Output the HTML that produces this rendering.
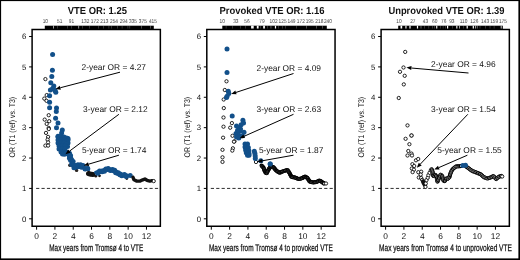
<!DOCTYPE html>
<html><head><meta charset="utf-8"><style>
html,body{margin:0;padding:0;background:#fff;}
svg{display:block;will-change:transform;}
text{font-family:"Liberation Sans", sans-serif;fill:#111;text-rendering:geometricPrecision;}
</style></head><body>
<svg width="520" height="260" viewBox="0 0 520 260">
<rect x="0" y="0" width="520" height="260" fill="#fff"/>
<rect x="0" y="0" width="520" height="1.1" fill="#000"/>
<rect x="0" y="0" width="1.1" height="260" fill="#000"/>
<rect x="518.4" y="0" width="1.6" height="260" fill="#000"/>
<rect x="0" y="258.4" width="520" height="1.6" fill="#000"/>
<text x="67.8" y="14.0" font-size="10.2" font-weight="bold" textLength="59.10000000000001" lengthAdjust="spacingAndGlyphs">VTE OR: 1.25</text>
<text x="0" y="0" font-size="5.6" text-anchor="middle" style="fill:#444" transform="translate(45.3,22.9) scale(0.86,1)">10</text>
<text x="0" y="0" font-size="5.6" text-anchor="middle" style="fill:#444" transform="translate(59.7,22.9) scale(0.86,1)">51</text>
<text x="0" y="0" font-size="5.6" text-anchor="middle" style="fill:#444" transform="translate(71.5,22.9) scale(0.86,1)">91</text>
<text x="0" y="0" font-size="5.6" text-anchor="middle" style="fill:#444" transform="translate(85.3,22.9) scale(0.86,1)">132</text>
<text x="0" y="0" font-size="5.6" text-anchor="middle" style="fill:#444" transform="translate(94.8,22.9) scale(0.86,1)">172</text>
<text x="0" y="0" font-size="5.6" text-anchor="middle" style="fill:#444" transform="translate(104.3,22.9) scale(0.86,1)">213</text>
<text x="0" y="0" font-size="5.6" text-anchor="middle" style="fill:#444" transform="translate(114,22.9) scale(0.86,1)">254</text>
<text x="0" y="0" font-size="5.6" text-anchor="middle" style="fill:#444" transform="translate(123.7,22.9) scale(0.86,1)">294</text>
<text x="0" y="0" font-size="5.6" text-anchor="middle" style="fill:#444" transform="translate(133,22.9) scale(0.86,1)">335</text>
<text x="0" y="0" font-size="5.6" text-anchor="middle" style="fill:#444" transform="translate(142.8,22.9) scale(0.86,1)">375</text>
<text x="0" y="0" font-size="5.6" text-anchor="middle" style="fill:#444" transform="translate(152.9,22.9) scale(0.86,1)">415</text>
<rect x="44.8" y="25.7" width="109.00000000000001" height="3.6" fill="#000"/>
<rect x="53.2" y="25.7" width="0.7" height="3.0" fill="#fff" opacity="0.9"/>
<rect x="57.3" y="25.7" width="0.6" height="3.0" fill="#fff" opacity="0.35"/>
<rect x="67.2" y="25.7" width="0.6" height="3.0" fill="#fff" opacity="0.35"/>
<rect x="71" y="25.7" width="0.6" height="3.0" fill="#fff" opacity="0.35"/>
<rect x="78.3" y="25.7" width="0.8" height="3.0" fill="#fff" opacity="0.7"/>
<rect x="82" y="25.7" width="0.6" height="3.0" fill="#fff" opacity="0.35"/>
<rect x="89.2" y="25.7" width="0.6" height="3.0" fill="#fff" opacity="0.35"/>
<rect x="98.2" y="25.7" width="0.6" height="3.0" fill="#fff" opacity="0.35"/>
<rect x="103.4" y="25.7" width="0.6" height="3.0" fill="#fff" opacity="0.35"/>
<rect x="108.6" y="25.7" width="0.6" height="3.0" fill="#fff" opacity="0.35"/>
<rect x="111.2" y="25.7" width="0.6" height="3.0" fill="#fff" opacity="0.35"/>
<rect x="117.2" y="25.7" width="0.6" height="3.0" fill="#fff" opacity="0.35"/>
<rect x="121.8" y="25.7" width="0.6" height="3.0" fill="#fff" opacity="0.35"/>
<rect x="127.6" y="25.7" width="0.6" height="3.0" fill="#fff" opacity="0.35"/>
<rect x="129.5" y="25.7" width="0.6" height="3.0" fill="#fff" opacity="0.35"/>
<rect x="141.5" y="25.7" width="0.5" height="3.0" fill="#fff" opacity="0.6"/>
<rect x="150.5" y="25.7" width="0.5" height="3.0" fill="#fff" opacity="0.6"/>
<path d="M32.1,29.5 H160.35 V226.2 H32.1 Z" fill="none" stroke="#000" stroke-width="1.5"/>
<line x1="29.1" y1="218.80" x2="32.1" y2="218.80" stroke="#000" stroke-width="1"/>
<text x="26.3" y="221.60" font-size="7.8" text-anchor="end">0</text>
<line x1="29.1" y1="188.42" x2="32.1" y2="188.42" stroke="#000" stroke-width="1"/>
<text x="26.3" y="191.22" font-size="7.8" text-anchor="end">1</text>
<line x1="29.1" y1="158.04" x2="32.1" y2="158.04" stroke="#000" stroke-width="1"/>
<text x="26.3" y="160.84" font-size="7.8" text-anchor="end">2</text>
<line x1="29.1" y1="127.66" x2="32.1" y2="127.66" stroke="#000" stroke-width="1"/>
<text x="26.3" y="130.46" font-size="7.8" text-anchor="end">3</text>
<line x1="29.1" y1="97.28" x2="32.1" y2="97.28" stroke="#000" stroke-width="1"/>
<text x="26.3" y="100.08" font-size="7.8" text-anchor="end">4</text>
<line x1="29.1" y1="66.90" x2="32.1" y2="66.90" stroke="#000" stroke-width="1"/>
<text x="26.3" y="69.70" font-size="7.8" text-anchor="end">5</text>
<line x1="29.1" y1="36.52" x2="32.1" y2="36.52" stroke="#000" stroke-width="1"/>
<text x="26.3" y="39.32" font-size="7.8" text-anchor="end">6</text>
<line x1="36.60" y1="226.2" x2="36.60" y2="229.7" stroke="#000" stroke-width="1"/>
<text x="36.60" y="238.9" font-size="8.4" text-anchor="middle">0</text>
<line x1="54.91" y1="226.2" x2="54.91" y2="229.7" stroke="#000" stroke-width="1"/>
<text x="54.91" y="238.9" font-size="8.4" text-anchor="middle">2</text>
<line x1="73.22" y1="226.2" x2="73.22" y2="229.7" stroke="#000" stroke-width="1"/>
<text x="73.22" y="238.9" font-size="8.4" text-anchor="middle">4</text>
<line x1="91.53" y1="226.2" x2="91.53" y2="229.7" stroke="#000" stroke-width="1"/>
<text x="91.53" y="238.9" font-size="8.4" text-anchor="middle">6</text>
<line x1="109.84" y1="226.2" x2="109.84" y2="229.7" stroke="#000" stroke-width="1"/>
<text x="109.84" y="238.9" font-size="8.4" text-anchor="middle">8</text>
<line x1="128.15" y1="226.2" x2="128.15" y2="229.7" stroke="#000" stroke-width="1"/>
<text x="128.15" y="238.9" font-size="8.4" text-anchor="middle">10</text>
<line x1="146.46" y1="226.2" x2="146.46" y2="229.7" stroke="#000" stroke-width="1"/>
<text x="146.46" y="238.9" font-size="8.4" text-anchor="middle">12</text>
<line x1="36.1" y1="188.42" x2="160.35" y2="188.42" stroke="#222" stroke-width="0.95" stroke-dasharray="3.2 2.2"/>
<text x="-30.3" y="0" font-size="8.2" textLength="60.6" lengthAdjust="spacingAndGlyphs" transform="translate(15.4,127.15) rotate(-90)">OR (T1 (ref) vs. T3)</text>
<text x="49.3" y="250.6" font-size="9.6" textLength="93.89999999999999" lengthAdjust="spacingAndGlyphs" style="stroke:#111;stroke-width:0.25">Max years from Tromsø 4 to VTE</text>
<circle cx="45.4" cy="79.1" r="1.65" fill="#fff" stroke="#000" stroke-width="0.85"/>
<circle cx="46.7" cy="95.1" r="1.65" fill="#fff" stroke="#000" stroke-width="0.85"/>
<circle cx="44.3" cy="98.6" r="1.65" fill="#fff" stroke="#000" stroke-width="0.85"/>
<circle cx="46.5" cy="100.8" r="1.65" fill="#fff" stroke="#000" stroke-width="0.85"/>
<circle cx="48.7" cy="115.2" r="1.65" fill="#fff" stroke="#000" stroke-width="0.85"/>
<circle cx="44.7" cy="119.6" r="1.65" fill="#fff" stroke="#000" stroke-width="0.85"/>
<circle cx="49.2" cy="121.2" r="1.65" fill="#fff" stroke="#000" stroke-width="0.85"/>
<circle cx="46.7" cy="123.9" r="1.65" fill="#fff" stroke="#000" stroke-width="0.85"/>
<circle cx="48.7" cy="128" r="1.65" fill="#fff" stroke="#000" stroke-width="0.85"/>
<circle cx="48.8" cy="129" r="1.65" fill="#fff" stroke="#000" stroke-width="0.85"/>
<circle cx="46" cy="132.9" r="1.65" fill="#fff" stroke="#000" stroke-width="0.85"/>
<circle cx="48.1" cy="136.9" r="1.65" fill="#fff" stroke="#000" stroke-width="0.85"/>
<circle cx="47.6" cy="139.7" r="1.65" fill="#fff" stroke="#000" stroke-width="0.85"/>
<circle cx="48.1" cy="142.4" r="1.65" fill="#fff" stroke="#000" stroke-width="0.85"/>
<circle cx="45.4" cy="145.6" r="1.65" fill="#fff" stroke="#000" stroke-width="0.85"/>
<circle cx="48.1" cy="145.6" r="1.65" fill="#fff" stroke="#000" stroke-width="0.85"/>
<circle cx="52.6" cy="54.5" r="2.5" fill="#12508a"/>
<circle cx="52.4" cy="70.3" r="2.5" fill="#12508a"/>
<circle cx="51.8" cy="76.6" r="2.5" fill="#12508a"/>
<circle cx="50.8" cy="82.7" r="2.5" fill="#12508a"/>
<circle cx="53.8" cy="86.1" r="2.5" fill="#12508a"/>
<circle cx="52.7" cy="88.5" r="2.5" fill="#12508a"/>
<circle cx="50.4" cy="89.9" r="2.5" fill="#12508a"/>
<circle cx="55" cy="90.4" r="2.5" fill="#12508a"/>
<circle cx="55.8" cy="92.2" r="2.5" fill="#12508a"/>
<circle cx="49.6" cy="95.8" r="2.5" fill="#12508a"/>
<circle cx="49.6" cy="102.3" r="2.5" fill="#12508a"/>
<circle cx="49.6" cy="107.7" r="2.5" fill="#12508a"/>
<circle cx="56.5" cy="108" r="2.5" fill="#12508a"/>
<circle cx="56.3" cy="111.5" r="2.5" fill="#12508a"/>
<circle cx="55.6" cy="118.3" r="2.5" fill="#12508a"/>
<circle cx="58" cy="123.1" r="2.5" fill="#12508a"/>
<circle cx="56.5" cy="127.7" r="2.5" fill="#12508a"/>
<circle cx="62.3" cy="130" r="2.5" fill="#12508a"/>
<circle cx="61.6" cy="133.1" r="2.5" fill="#12508a"/>
<circle cx="58" cy="136.2" r="2.5" fill="#12508a"/>
<circle cx="61.1" cy="137.7" r="2.5" fill="#12508a"/>
<circle cx="68" cy="138.5" r="2.5" fill="#12508a"/>
<circle cx="58" cy="137" r="2.5" fill="#12508a"/>
<circle cx="61" cy="136" r="2.5" fill="#12508a"/>
<circle cx="64" cy="137" r="2.5" fill="#12508a"/>
<circle cx="66.5" cy="138" r="2.5" fill="#12508a"/>
<circle cx="68" cy="140" r="2.5" fill="#12508a"/>
<circle cx="58" cy="140" r="2.5" fill="#12508a"/>
<circle cx="61" cy="140" r="2.5" fill="#12508a"/>
<circle cx="64" cy="140" r="2.5" fill="#12508a"/>
<circle cx="66.5" cy="141" r="2.5" fill="#12508a"/>
<circle cx="68" cy="143" r="2.5" fill="#12508a"/>
<circle cx="58" cy="143" r="2.5" fill="#12508a"/>
<circle cx="61" cy="143" r="2.5" fill="#12508a"/>
<circle cx="64" cy="143" r="2.5" fill="#12508a"/>
<circle cx="66.5" cy="144" r="2.5" fill="#12508a"/>
<circle cx="67.5" cy="146.5" r="2.5" fill="#12508a"/>
<circle cx="59" cy="146" r="2.5" fill="#12508a"/>
<circle cx="62" cy="146" r="2.5" fill="#12508a"/>
<circle cx="65" cy="146" r="2.5" fill="#12508a"/>
<circle cx="59" cy="149" r="2.5" fill="#12508a"/>
<circle cx="62" cy="149" r="2.5" fill="#12508a"/>
<circle cx="65" cy="149" r="2.5" fill="#12508a"/>
<circle cx="61" cy="152" r="2.5" fill="#12508a"/>
<circle cx="64" cy="152" r="2.5" fill="#12508a"/>
<circle cx="66" cy="152" r="2.5" fill="#12508a"/>
<circle cx="62.5" cy="154" r="2.5" fill="#12508a"/>
<circle cx="64.5" cy="154.3" r="2.5" fill="#12508a"/>
<path d="M88.5,173.5 L91,174.3 L93,174.5" fill="none" stroke="#111" stroke-width="5.0" stroke-linecap="round" stroke-linejoin="round"/>
<circle cx="69.8" cy="165.3" r="1.7" fill="#2a2420"/>
<circle cx="76.6" cy="170.4" r="1.7" fill="#2a2420"/>
<path d="M65.5,151 L70,155.5 L71.2,160 L73,164.5" fill="none" stroke="#12508a" stroke-width="3.4000000000000004" stroke-linecap="round" stroke-linejoin="round"/>
<circle cx="66.21" cy="153.40" r="2.5" fill="#12508a"/>
<circle cx="67.06" cy="152.56" r="2.5" fill="#12508a"/>
<circle cx="68.61" cy="154.11" r="2.5" fill="#12508a"/>
<circle cx="69.46" cy="153.26" r="2.5" fill="#12508a"/>
<circle cx="69.37" cy="155.91" r="2.5" fill="#12508a"/>
<circle cx="70.52" cy="155.60" r="2.5" fill="#12508a"/>
<circle cx="69.47" cy="158.16" r="2.5" fill="#12508a"/>
<circle cx="70.63" cy="157.85" r="2.5" fill="#12508a"/>
<circle cx="70.50" cy="160.17" r="2.5" fill="#12508a"/>
<circle cx="71.66" cy="159.86" r="2.5" fill="#12508a"/>
<circle cx="72.01" cy="162.02" r="2.5" fill="#12508a"/>
<circle cx="73.12" cy="161.58" r="2.5" fill="#12508a"/>
<circle cx="71.71" cy="164.51" r="2.5" fill="#12508a"/>
<circle cx="72.83" cy="164.07" r="2.5" fill="#12508a"/>
<path d="M73,165.2 L76,167.2 L78.6,165.4 L81,165.2 L83.5,167" fill="none" stroke="#12508a" stroke-width="4.2" stroke-linecap="round" stroke-linejoin="round"/>
<circle cx="73.94" cy="167.75" r="2.5" fill="#12508a"/>
<circle cx="75.05" cy="166.09" r="2.5" fill="#12508a"/>
<circle cx="76.88" cy="167.08" r="2.5" fill="#12508a"/>
<circle cx="75.74" cy="165.43" r="2.5" fill="#12508a"/>
<circle cx="79.10" cy="166.42" r="2.5" fill="#12508a"/>
<circle cx="77.96" cy="164.77" r="2.5" fill="#12508a"/>
<circle cx="80.76" cy="166.83" r="2.5" fill="#12508a"/>
<circle cx="80.59" cy="164.83" r="2.5" fill="#12508a"/>
<circle cx="81.83" cy="167.17" r="2.5" fill="#12508a"/>
<circle cx="82.99" cy="165.55" r="2.5" fill="#12508a"/>
<path d="M83.5,167.2 L86,168.6 L89,169.6" fill="none" stroke="#12508a" stroke-width="2.4000000000000004" stroke-linecap="round" stroke-linejoin="round"/>
<circle cx="85.08" cy="168.89" r="2.5" fill="#12508a"/>
<circle cx="85.18" cy="168.71" r="2.5" fill="#12508a"/>
<circle cx="87.61" cy="168.61" r="2.5" fill="#12508a"/>
<circle cx="87.68" cy="168.42" r="2.5" fill="#12508a"/>
<circle cx="95.8" cy="176.2" r="1.4" fill="#1c1614"/>
<circle cx="99.5" cy="175.8" r="1.4" fill="#1c1614"/>
<circle cx="126.8" cy="178.6" r="1.4" fill="#1c1614"/>
<path d="M95.5,172.2 L98.7,172.2 L102.4,171 L106.1,169.3 L109.8,169.6 L112.1,169.5 L114.4,170.5 L117.2,172.5 L119.9,174.1 L123.6,175.3 L126.6,176" fill="none" stroke="#12508a" stroke-width="3.0" stroke-linecap="round" stroke-linejoin="round"/>
<circle cx="97.70" cy="173.20" r="2.5" fill="#12508a"/>
<circle cx="97.70" cy="172.40" r="2.5" fill="#12508a"/>
<circle cx="99.78" cy="171.64" r="2.5" fill="#12508a"/>
<circle cx="99.53" cy="170.88" r="2.5" fill="#12508a"/>
<circle cx="102.09" cy="171.65" r="2.5" fill="#12508a"/>
<circle cx="101.85" cy="170.88" r="2.5" fill="#12508a"/>
<circle cx="104.37" cy="171.19" r="2.5" fill="#12508a"/>
<circle cx="104.04" cy="170.47" r="2.5" fill="#12508a"/>
<circle cx="106.17" cy="169.84" r="2.5" fill="#12508a"/>
<circle cx="105.84" cy="169.11" r="2.5" fill="#12508a"/>
<circle cx="108.15" cy="169.27" r="2.5" fill="#12508a"/>
<circle cx="108.21" cy="168.47" r="2.5" fill="#12508a"/>
<circle cx="110.37" cy="170.58" r="2.5" fill="#12508a"/>
<circle cx="110.33" cy="169.78" r="2.5" fill="#12508a"/>
<circle cx="112.28" cy="170.15" r="2.5" fill="#12508a"/>
<circle cx="112.60" cy="169.41" r="2.5" fill="#12508a"/>
<circle cx="114.19" cy="170.99" r="2.5" fill="#12508a"/>
<circle cx="114.66" cy="170.34" r="2.5" fill="#12508a"/>
<circle cx="115.70" cy="172.66" r="2.5" fill="#12508a"/>
<circle cx="116.17" cy="172.01" r="2.5" fill="#12508a"/>
<circle cx="117.86" cy="173.50" r="2.5" fill="#12508a"/>
<circle cx="118.27" cy="172.81" r="2.5" fill="#12508a"/>
<circle cx="119.87" cy="174.64" r="2.5" fill="#12508a"/>
<circle cx="120.12" cy="173.88" r="2.5" fill="#12508a"/>
<circle cx="121.81" cy="175.77" r="2.5" fill="#12508a"/>
<circle cx="122.06" cy="175.01" r="2.5" fill="#12508a"/>
<circle cx="124.28" cy="175.25" r="2.5" fill="#12508a"/>
<circle cx="124.46" cy="174.47" r="2.5" fill="#12508a"/>
<circle cx="126.25" cy="176.45" r="2.5" fill="#12508a"/>
<circle cx="126.44" cy="175.67" r="2.5" fill="#12508a"/>
<circle cx="130.2" cy="175.6" r="2.5" fill="#12508a"/>
<path d="M133,177.3 L134,179.8 L136.8,181.1 L140.2,181.1 L142.8,179.8 L144.9,179 L147,180.3 L149.9,181.1 L152,180.7" fill="none" stroke="#111" stroke-width="3.4" stroke-linecap="round" stroke-linejoin="round"/>
<circle cx="153.7" cy="181.1" r="1.65" fill="#fff" stroke="#000" stroke-width="0.85"/>
<text x="81.5" y="70.4" font-size="8.4">2-year OR = 4.27</text>
<line x1="120" y1="72.2" x2="60.34" y2="87.74" stroke="#000" stroke-width="1"/>
<path d="M55.5,89 L59.83,85.80 L60.84,89.68 Z" fill="#000"/>
<text x="83.1" y="112" font-size="8.4">3-year OR = 2.12</text>
<line x1="118.9" y1="114.3" x2="69.41" y2="151.21" stroke="#000" stroke-width="1"/>
<path d="M65.4,154.2 L68.21,149.61 L70.60,152.81 Z" fill="#000"/>
<text x="81.9" y="153" font-size="8.4">5-year OR = 1.74</text>
<line x1="118.9" y1="155.2" x2="88.59" y2="164.18" stroke="#000" stroke-width="1"/>
<path d="M83.8,165.6 L88.03,162.26 L89.16,166.10 Z" fill="#000"/>
<text x="219.5" y="14.0" font-size="10.2" font-weight="bold" textLength="105.0" lengthAdjust="spacingAndGlyphs">Provoked VTE OR: 1.16</text>
<text x="0" y="0" font-size="5.6" text-anchor="middle" style="fill:#444" transform="translate(222.2,22.9) scale(0.86,1)">10</text>
<text x="0" y="0" font-size="5.6" text-anchor="middle" style="fill:#444" transform="translate(235.8,22.9) scale(0.86,1)">33</text>
<text x="0" y="0" font-size="5.6" text-anchor="middle" style="fill:#444" transform="translate(247,22.9) scale(0.86,1)">56</text>
<text x="0" y="0" font-size="5.6" text-anchor="middle" style="fill:#444" transform="translate(262,22.9) scale(0.86,1)">79</text>
<text x="0" y="0" font-size="5.6" text-anchor="middle" style="fill:#444" transform="translate(273.6,22.9) scale(0.86,1)">102</text>
<text x="0" y="0" font-size="5.6" text-anchor="middle" style="fill:#444" transform="translate(282.6,22.9) scale(0.86,1)">125</text>
<text x="0" y="0" font-size="5.6" text-anchor="middle" style="fill:#444" transform="translate(291.5,22.9) scale(0.86,1)">149</text>
<text x="0" y="0" font-size="5.6" text-anchor="middle" style="fill:#444" transform="translate(300.8,22.9) scale(0.86,1)">172</text>
<text x="0" y="0" font-size="5.6" text-anchor="middle" style="fill:#444" transform="translate(309.7,22.9) scale(0.86,1)">195</text>
<text x="0" y="0" font-size="5.6" text-anchor="middle" style="fill:#444" transform="translate(319.3,22.9) scale(0.86,1)">218</text>
<text x="0" y="0" font-size="5.6" text-anchor="middle" style="fill:#444" transform="translate(327.9,22.9) scale(0.86,1)">240</text>
<rect x="222.3" y="25.7" width="104.5" height="3.6" fill="#000"/>
<rect x="225.8" y="25.7" width="0.6" height="3.0" fill="#fff" opacity="0.35"/>
<rect x="232.3" y="25.7" width="0.6" height="3.0" fill="#fff" opacity="0.35"/>
<rect x="240.3" y="25.7" width="0.6" height="3.0" fill="#fff" opacity="0.35"/>
<rect x="245.3" y="25.7" width="0.6" height="3.0" fill="#fff" opacity="0.35"/>
<rect x="251.1" y="25.7" width="2.6" height="3.0" fill="#fff" opacity="1"/>
<rect x="256.8" y="25.7" width="1.8" height="3.0" fill="#fff" opacity="1"/>
<rect x="260.4" y="25.7" width="0.6" height="3.0" fill="#fff" opacity="0.35"/>
<rect x="263.2" y="25.7" width="1.7" height="3.0" fill="#fff" opacity="1"/>
<rect x="267.3" y="25.7" width="0.6" height="3.0" fill="#fff" opacity="0.35"/>
<rect x="270.2" y="25.7" width="0.6" height="3.0" fill="#fff" opacity="0.35"/>
<rect x="271.5" y="25.7" width="0.6" height="3.0" fill="#fff" opacity="0.35"/>
<rect x="274.9" y="25.7" width="1.2" height="3.0" fill="#fff" opacity="1"/>
<rect x="278.2" y="25.7" width="0.6" height="3.0" fill="#fff" opacity="0.35"/>
<rect x="282.2" y="25.7" width="0.6" height="3.0" fill="#fff" opacity="0.35"/>
<rect x="285.1" y="25.7" width="0.6" height="3.0" fill="#fff" opacity="0.35"/>
<rect x="296.3" y="25.7" width="0.6" height="3.0" fill="#fff" opacity="0.35"/>
<rect x="306" y="25.7" width="0.5" height="3.0" fill="#fff" opacity="0.6"/>
<rect x="316.5" y="25.7" width="0.5" height="3.0" fill="#fff" opacity="0.6"/>
<rect x="322.5" y="25.7" width="0.5" height="3.0" fill="#fff" opacity="0.6"/>
<path d="M206.79999999999998,29.5 H335.04999999999995 V226.2 H206.79999999999998 Z" fill="none" stroke="#000" stroke-width="1.5"/>
<line x1="203.79999999999998" y1="218.80" x2="206.79999999999998" y2="218.80" stroke="#000" stroke-width="1"/>
<text x="200.99999999999997" y="221.60" font-size="7.8" text-anchor="end">0</text>
<line x1="203.79999999999998" y1="188.42" x2="206.79999999999998" y2="188.42" stroke="#000" stroke-width="1"/>
<text x="200.99999999999997" y="191.22" font-size="7.8" text-anchor="end">1</text>
<line x1="203.79999999999998" y1="158.04" x2="206.79999999999998" y2="158.04" stroke="#000" stroke-width="1"/>
<text x="200.99999999999997" y="160.84" font-size="7.8" text-anchor="end">2</text>
<line x1="203.79999999999998" y1="127.66" x2="206.79999999999998" y2="127.66" stroke="#000" stroke-width="1"/>
<text x="200.99999999999997" y="130.46" font-size="7.8" text-anchor="end">3</text>
<line x1="203.79999999999998" y1="97.28" x2="206.79999999999998" y2="97.28" stroke="#000" stroke-width="1"/>
<text x="200.99999999999997" y="100.08" font-size="7.8" text-anchor="end">4</text>
<line x1="203.79999999999998" y1="66.90" x2="206.79999999999998" y2="66.90" stroke="#000" stroke-width="1"/>
<text x="200.99999999999997" y="69.70" font-size="7.8" text-anchor="end">5</text>
<line x1="203.79999999999998" y1="36.52" x2="206.79999999999998" y2="36.52" stroke="#000" stroke-width="1"/>
<text x="200.99999999999997" y="39.32" font-size="7.8" text-anchor="end">6</text>
<line x1="211.30" y1="226.2" x2="211.30" y2="229.7" stroke="#000" stroke-width="1"/>
<text x="211.30" y="238.9" font-size="8.4" text-anchor="middle">0</text>
<line x1="229.61" y1="226.2" x2="229.61" y2="229.7" stroke="#000" stroke-width="1"/>
<text x="229.61" y="238.9" font-size="8.4" text-anchor="middle">2</text>
<line x1="247.92" y1="226.2" x2="247.92" y2="229.7" stroke="#000" stroke-width="1"/>
<text x="247.92" y="238.9" font-size="8.4" text-anchor="middle">4</text>
<line x1="266.23" y1="226.2" x2="266.23" y2="229.7" stroke="#000" stroke-width="1"/>
<text x="266.23" y="238.9" font-size="8.4" text-anchor="middle">6</text>
<line x1="284.54" y1="226.2" x2="284.54" y2="229.7" stroke="#000" stroke-width="1"/>
<text x="284.54" y="238.9" font-size="8.4" text-anchor="middle">8</text>
<line x1="302.85" y1="226.2" x2="302.85" y2="229.7" stroke="#000" stroke-width="1"/>
<text x="302.85" y="238.9" font-size="8.4" text-anchor="middle">10</text>
<line x1="321.16" y1="226.2" x2="321.16" y2="229.7" stroke="#000" stroke-width="1"/>
<text x="321.16" y="238.9" font-size="8.4" text-anchor="middle">12</text>
<line x1="210.79999999999998" y1="188.42" x2="335.04999999999995" y2="188.42" stroke="#222" stroke-width="0.95" stroke-dasharray="3.2 2.2"/>
<text x="-30.3" y="0" font-size="8.2" textLength="60.6" lengthAdjust="spacingAndGlyphs" transform="translate(190.1,127.15) rotate(-90)">OR (T1 (ref) vs. T3)</text>
<text x="208.89999999999998" y="250.6" font-size="9.6" textLength="123.99999999999999" lengthAdjust="spacingAndGlyphs" style="stroke:#111;stroke-width:0.25">Max years from Tromsø 4 to provoked VTE</text>
<circle cx="226.5" cy="81.3" r="1.65" fill="#fff" stroke="#000" stroke-width="0.85"/>
<circle cx="224.8" cy="90" r="1.65" fill="#fff" stroke="#000" stroke-width="0.85"/>
<circle cx="223.7" cy="99.5" r="1.65" fill="#fff" stroke="#000" stroke-width="0.85"/>
<circle cx="223.8" cy="108.1" r="1.65" fill="#fff" stroke="#000" stroke-width="0.85"/>
<circle cx="223.5" cy="117.5" r="1.65" fill="#fff" stroke="#000" stroke-width="0.85"/>
<circle cx="231.9" cy="123.1" r="1.65" fill="#fff" stroke="#000" stroke-width="0.85"/>
<circle cx="230.2" cy="127.7" r="1.65" fill="#fff" stroke="#000" stroke-width="0.85"/>
<circle cx="223.5" cy="126.7" r="1.65" fill="#fff" stroke="#000" stroke-width="0.85"/>
<circle cx="232.5" cy="135.8" r="1.65" fill="#fff" stroke="#000" stroke-width="0.85"/>
<circle cx="223.1" cy="137.7" r="1.65" fill="#fff" stroke="#000" stroke-width="0.85"/>
<circle cx="234.5" cy="141.3" r="1.65" fill="#fff" stroke="#000" stroke-width="0.85"/>
<circle cx="232.9" cy="148.3" r="1.65" fill="#fff" stroke="#000" stroke-width="0.85"/>
<circle cx="232.3" cy="150.6" r="1.65" fill="#fff" stroke="#000" stroke-width="0.85"/>
<circle cx="234" cy="141.7" r="1.65" fill="#fff" stroke="#000" stroke-width="0.85"/>
<circle cx="222.5" cy="149.8" r="1.65" fill="#fff" stroke="#000" stroke-width="0.85"/>
<circle cx="222.5" cy="157.3" r="1.65" fill="#fff" stroke="#000" stroke-width="0.85"/>
<circle cx="222.5" cy="161.9" r="1.65" fill="#fff" stroke="#000" stroke-width="0.85"/>
<circle cx="256" cy="162" r="1.65" fill="#fff" stroke="#000" stroke-width="0.85"/>
<circle cx="227" cy="49" r="2.5" fill="#12508a"/>
<circle cx="227" cy="72.5" r="2.5" fill="#12508a"/>
<circle cx="228.3" cy="91.2" r="2.5" fill="#12508a"/>
<circle cx="228.8" cy="93.5" r="2.5" fill="#12508a"/>
<circle cx="227.1" cy="96.3" r="2.5" fill="#12508a"/>
<circle cx="226.5" cy="97.5" r="2.5" fill="#12508a"/>
<circle cx="232.2" cy="115.9" r="2.5" fill="#12508a"/>
<circle cx="242.9" cy="120.2" r="2.5" fill="#12508a"/>
<circle cx="243.5" cy="123.1" r="2.5" fill="#12508a"/>
<circle cx="241.1" cy="124.8" r="2.5" fill="#12508a"/>
<circle cx="236.5" cy="126" r="2.5" fill="#12508a"/>
<circle cx="238.8" cy="127.7" r="2.5" fill="#12508a"/>
<circle cx="240" cy="131.1" r="2.5" fill="#12508a"/>
<circle cx="244" cy="132.3" r="2.5" fill="#12508a"/>
<circle cx="236" cy="133.5" r="2.5" fill="#12508a"/>
<circle cx="238.8" cy="135.2" r="2.5" fill="#12508a"/>
<circle cx="242.3" cy="135.8" r="2.5" fill="#12508a"/>
<circle cx="236.5" cy="136.9" r="2.5" fill="#12508a"/>
<circle cx="238.8" cy="138.1" r="2.5" fill="#12508a"/>
<circle cx="240.5" cy="129" r="2.5" fill="#12508a"/>
<circle cx="237.5" cy="130.5" r="2.5" fill="#12508a"/>
<circle cx="245" cy="144" r="2.5" fill="#12508a"/>
<circle cx="247.5" cy="144" r="2.5" fill="#12508a"/>
<circle cx="245" cy="147" r="2.5" fill="#12508a"/>
<circle cx="248.3" cy="147.5" r="2.5" fill="#12508a"/>
<circle cx="245.6" cy="150" r="2.5" fill="#12508a"/>
<circle cx="248.8" cy="150.5" r="2.5" fill="#12508a"/>
<circle cx="246.3" cy="152.8" r="2.5" fill="#12508a"/>
<circle cx="249" cy="153.5" r="2.5" fill="#12508a"/>
<circle cx="247.5" cy="155.3" r="2.5" fill="#12508a"/>
<circle cx="249" cy="155.3" r="2.5" fill="#12508a"/>
<circle cx="254.3" cy="151.2" r="2.5" fill="#12508a"/>
<circle cx="254.9" cy="153.6" r="2.5" fill="#12508a"/>
<circle cx="255.2" cy="156" r="2.5" fill="#12508a"/>
<circle cx="255.3" cy="158.5" r="2.5" fill="#12508a"/>
<circle cx="260.8" cy="160.8" r="2.5" fill="#12508a"/>
<circle cx="270.2" cy="163.9" r="2.5" fill="#12508a"/>
<circle cx="261.50" cy="165.60" r="1.5" fill="#fff" stroke="#000" stroke-width="1.1"/>
<circle cx="262.08" cy="166.15" r="1.5" fill="#fff" stroke="#000" stroke-width="1.1"/>
<circle cx="262.66" cy="166.70" r="1.5" fill="#fff" stroke="#000" stroke-width="1.1"/>
<circle cx="263.24" cy="167.25" r="1.5" fill="#fff" stroke="#000" stroke-width="1.1"/>
<circle cx="263.63" cy="167.92" r="1.5" fill="#fff" stroke="#000" stroke-width="1.1"/>
<circle cx="263.87" cy="168.69" r="1.5" fill="#fff" stroke="#000" stroke-width="1.1"/>
<circle cx="264.11" cy="169.45" r="1.5" fill="#fff" stroke="#000" stroke-width="1.1"/>
<circle cx="264.34" cy="170.21" r="1.5" fill="#fff" stroke="#000" stroke-width="1.1"/>
<circle cx="264.67" cy="170.94" r="1.5" fill="#fff" stroke="#000" stroke-width="1.1"/>
<circle cx="265.03" cy="171.66" r="1.5" fill="#fff" stroke="#000" stroke-width="1.1"/>
<circle cx="265.39" cy="172.37" r="1.5" fill="#fff" stroke="#000" stroke-width="1.1"/>
<circle cx="265.90" cy="172.92" r="1.5" fill="#fff" stroke="#000" stroke-width="1.1"/>
<circle cx="266.64" cy="173.23" r="1.5" fill="#fff" stroke="#000" stroke-width="1.1"/>
<circle cx="267.04" cy="172.73" r="1.5" fill="#fff" stroke="#000" stroke-width="1.1"/>
<circle cx="267.35" cy="171.99" r="1.5" fill="#fff" stroke="#000" stroke-width="1.1"/>
<circle cx="267.65" cy="171.25" r="1.5" fill="#fff" stroke="#000" stroke-width="1.1"/>
<circle cx="268.01" cy="170.54" r="1.5" fill="#fff" stroke="#000" stroke-width="1.1"/>
<circle cx="268.42" cy="169.84" r="1.5" fill="#fff" stroke="#000" stroke-width="1.1"/>
<circle cx="268.82" cy="169.15" r="1.5" fill="#fff" stroke="#000" stroke-width="1.1"/>
<circle cx="269.23" cy="168.47" r="1.5" fill="#fff" stroke="#000" stroke-width="1.1"/>
<circle cx="269.76" cy="167.87" r="1.5" fill="#fff" stroke="#000" stroke-width="1.1"/>
<circle cx="270.29" cy="167.27" r="1.5" fill="#fff" stroke="#000" stroke-width="1.1"/>
<circle cx="270.88" cy="166.80" r="1.5" fill="#fff" stroke="#000" stroke-width="1.1"/>
<circle cx="271.68" cy="166.80" r="1.5" fill="#fff" stroke="#000" stroke-width="1.1"/>
<circle cx="272.48" cy="166.80" r="1.5" fill="#fff" stroke="#000" stroke-width="1.1"/>
<circle cx="273.21" cy="166.94" r="1.5" fill="#fff" stroke="#000" stroke-width="1.1"/>
<circle cx="273.72" cy="167.55" r="1.5" fill="#fff" stroke="#000" stroke-width="1.1"/>
<circle cx="274.23" cy="168.17" r="1.5" fill="#fff" stroke="#000" stroke-width="1.1"/>
<circle cx="274.73" cy="168.79" r="1.5" fill="#fff" stroke="#000" stroke-width="1.1"/>
<circle cx="275.23" cy="169.42" r="1.5" fill="#fff" stroke="#000" stroke-width="1.1"/>
<circle cx="275.72" cy="170.05" r="1.5" fill="#fff" stroke="#000" stroke-width="1.1"/>
<circle cx="276.28" cy="170.61" r="1.5" fill="#fff" stroke="#000" stroke-width="1.1"/>
<circle cx="276.93" cy="171.08" r="1.5" fill="#fff" stroke="#000" stroke-width="1.1"/>
<circle cx="277.57" cy="171.56" r="1.5" fill="#fff" stroke="#000" stroke-width="1.1"/>
<circle cx="278.25" cy="171.98" r="1.5" fill="#fff" stroke="#000" stroke-width="1.1"/>
<circle cx="278.96" cy="172.36" r="1.5" fill="#fff" stroke="#000" stroke-width="1.1"/>
<circle cx="279.66" cy="172.73" r="1.5" fill="#fff" stroke="#000" stroke-width="1.1"/>
<circle cx="280.37" cy="172.50" r="1.5" fill="#fff" stroke="#000" stroke-width="1.1"/>
<circle cx="281.08" cy="172.13" r="1.5" fill="#fff" stroke="#000" stroke-width="1.1"/>
<circle cx="281.79" cy="171.77" r="1.5" fill="#fff" stroke="#000" stroke-width="1.1"/>
<circle cx="282.55" cy="171.50" r="1.5" fill="#fff" stroke="#000" stroke-width="1.1"/>
<circle cx="283.30" cy="171.24" r="1.5" fill="#fff" stroke="#000" stroke-width="1.1"/>
<circle cx="284.06" cy="170.98" r="1.5" fill="#fff" stroke="#000" stroke-width="1.1"/>
<circle cx="284.83" cy="170.76" r="1.5" fill="#fff" stroke="#000" stroke-width="1.1"/>
<circle cx="285.60" cy="170.54" r="1.5" fill="#fff" stroke="#000" stroke-width="1.1"/>
<circle cx="286.37" cy="170.32" r="1.5" fill="#fff" stroke="#000" stroke-width="1.1"/>
<circle cx="287.14" cy="170.10" r="1.5" fill="#fff" stroke="#000" stroke-width="1.1"/>
<circle cx="287.73" cy="170.35" r="1.5" fill="#fff" stroke="#000" stroke-width="1.1"/>
<circle cx="288.18" cy="171.02" r="1.5" fill="#fff" stroke="#000" stroke-width="1.1"/>
<circle cx="288.62" cy="171.68" r="1.5" fill="#fff" stroke="#000" stroke-width="1.1"/>
<circle cx="289.07" cy="172.35" r="1.5" fill="#fff" stroke="#000" stroke-width="1.1"/>
<circle cx="289.51" cy="173.02" r="1.5" fill="#fff" stroke="#000" stroke-width="1.1"/>
<circle cx="289.87" cy="173.73" r="1.5" fill="#fff" stroke="#000" stroke-width="1.1"/>
<circle cx="290.22" cy="174.45" r="1.5" fill="#fff" stroke="#000" stroke-width="1.1"/>
<circle cx="290.58" cy="175.16" r="1.5" fill="#fff" stroke="#000" stroke-width="1.1"/>
<circle cx="290.94" cy="175.88" r="1.5" fill="#fff" stroke="#000" stroke-width="1.1"/>
<circle cx="291.30" cy="176.59" r="1.5" fill="#fff" stroke="#000" stroke-width="1.1"/>
<circle cx="291.84" cy="177.05" r="1.5" fill="#fff" stroke="#000" stroke-width="1.1"/>
<circle cx="292.63" cy="177.16" r="1.5" fill="#fff" stroke="#000" stroke-width="1.1"/>
<circle cx="293.43" cy="177.28" r="1.5" fill="#fff" stroke="#000" stroke-width="1.1"/>
<circle cx="294.22" cy="177.39" r="1.5" fill="#fff" stroke="#000" stroke-width="1.1"/>
<circle cx="295.01" cy="177.50" r="1.5" fill="#fff" stroke="#000" stroke-width="1.1"/>
<circle cx="295.74" cy="177.82" r="1.5" fill="#fff" stroke="#000" stroke-width="1.1"/>
<circle cx="296.48" cy="178.13" r="1.5" fill="#fff" stroke="#000" stroke-width="1.1"/>
<circle cx="297.22" cy="178.45" r="1.5" fill="#fff" stroke="#000" stroke-width="1.1"/>
<circle cx="297.95" cy="178.76" r="1.5" fill="#fff" stroke="#000" stroke-width="1.1"/>
<circle cx="298.70" cy="178.97" r="1.5" fill="#fff" stroke="#000" stroke-width="1.1"/>
<circle cx="299.49" cy="178.84" r="1.5" fill="#fff" stroke="#000" stroke-width="1.1"/>
<circle cx="300.28" cy="178.70" r="1.5" fill="#fff" stroke="#000" stroke-width="1.1"/>
<circle cx="301.07" cy="178.57" r="1.5" fill="#fff" stroke="#000" stroke-width="1.1"/>
<circle cx="301.81" cy="178.32" r="1.5" fill="#fff" stroke="#000" stroke-width="1.1"/>
<circle cx="302.51" cy="177.92" r="1.5" fill="#fff" stroke="#000" stroke-width="1.1"/>
<circle cx="303.20" cy="177.53" r="1.5" fill="#fff" stroke="#000" stroke-width="1.1"/>
<circle cx="303.90" cy="177.13" r="1.5" fill="#fff" stroke="#000" stroke-width="1.1"/>
<circle cx="304.59" cy="176.73" r="1.5" fill="#fff" stroke="#000" stroke-width="1.1"/>
<circle cx="305.28" cy="176.67" r="1.5" fill="#fff" stroke="#000" stroke-width="1.1"/>
<circle cx="305.97" cy="177.08" r="1.5" fill="#fff" stroke="#000" stroke-width="1.1"/>
<circle cx="306.65" cy="177.49" r="1.5" fill="#fff" stroke="#000" stroke-width="1.1"/>
<circle cx="307.34" cy="177.90" r="1.5" fill="#fff" stroke="#000" stroke-width="1.1"/>
<circle cx="307.80" cy="178.53" r="1.5" fill="#fff" stroke="#000" stroke-width="1.1"/>
<circle cx="308.20" cy="179.23" r="1.5" fill="#fff" stroke="#000" stroke-width="1.1"/>
<circle cx="308.60" cy="179.92" r="1.5" fill="#fff" stroke="#000" stroke-width="1.1"/>
<circle cx="309.00" cy="180.62" r="1.5" fill="#fff" stroke="#000" stroke-width="1.1"/>
<circle cx="309.39" cy="181.31" r="1.5" fill="#fff" stroke="#000" stroke-width="1.1"/>
<circle cx="310.06" cy="181.66" r="1.5" fill="#fff" stroke="#000" stroke-width="1.1"/>
<circle cx="310.83" cy="181.88" r="1.5" fill="#fff" stroke="#000" stroke-width="1.1"/>
<circle cx="311.60" cy="182.10" r="1.5" fill="#fff" stroke="#000" stroke-width="1.1"/>
<circle cx="312.37" cy="182.32" r="1.5" fill="#fff" stroke="#000" stroke-width="1.1"/>
<circle cx="313.14" cy="182.48" r="1.5" fill="#fff" stroke="#000" stroke-width="1.1"/>
<circle cx="313.93" cy="182.37" r="1.5" fill="#fff" stroke="#000" stroke-width="1.1"/>
<circle cx="314.73" cy="182.25" r="1.5" fill="#fff" stroke="#000" stroke-width="1.1"/>
<circle cx="315.52" cy="182.14" r="1.5" fill="#fff" stroke="#000" stroke-width="1.1"/>
<circle cx="316.31" cy="182.03" r="1.5" fill="#fff" stroke="#000" stroke-width="1.1"/>
<circle cx="317.04" cy="181.73" r="1.5" fill="#fff" stroke="#000" stroke-width="1.1"/>
<circle cx="317.76" cy="181.37" r="1.5" fill="#fff" stroke="#000" stroke-width="1.1"/>
<circle cx="318.47" cy="181.01" r="1.5" fill="#fff" stroke="#000" stroke-width="1.1"/>
<circle cx="319.19" cy="180.65" r="1.5" fill="#fff" stroke="#000" stroke-width="1.1"/>
<circle cx="319.89" cy="180.73" r="1.5" fill="#fff" stroke="#000" stroke-width="1.1"/>
<circle cx="320.57" cy="181.14" r="1.5" fill="#fff" stroke="#000" stroke-width="1.1"/>
<circle cx="321.26" cy="181.56" r="1.5" fill="#fff" stroke="#000" stroke-width="1.1"/>
<circle cx="321.95" cy="181.97" r="1.5" fill="#fff" stroke="#000" stroke-width="1.1"/>
<circle cx="322.59" cy="182.44" r="1.5" fill="#fff" stroke="#000" stroke-width="1.1"/>
<circle cx="323.23" cy="182.92" r="1.5" fill="#fff" stroke="#000" stroke-width="1.1"/>
<circle cx="323.87" cy="183.40" r="1.5" fill="#fff" stroke="#000" stroke-width="1.1"/>
<circle cx="324.00" cy="183.50" r="1.5" fill="#fff" stroke="#000" stroke-width="1.1"/>
<circle cx="326" cy="183.5" r="1.65" fill="#fff" stroke="#000" stroke-width="0.85"/>
<circle cx="270.2" cy="163.9" r="2.5" fill="#12508a"/>
<text x="256.5" y="70.9" font-size="8.4">2-year OR = 4.09</text>
<line x1="293.5" y1="73.5" x2="235.95" y2="92.44" stroke="#000" stroke-width="1"/>
<path d="M231.2,94 L235.32,90.54 L236.57,94.34 Z" fill="#000"/>
<text x="256.6" y="112" font-size="8.4">3-year OR = 2.63</text>
<line x1="293.5" y1="114.3" x2="244.17" y2="136.27" stroke="#000" stroke-width="1"/>
<path d="M239.6,138.3 L243.35,134.44 L244.98,138.09 Z" fill="#000"/>
<text x="258.9" y="152.7" font-size="8.4">5-year OR = 1.87</text>
<line x1="293.5" y1="155.2" x2="262.12" y2="160.82" stroke="#000" stroke-width="1"/>
<path d="M257.2,161.7 L261.77,158.85 L262.47,162.79 Z" fill="#000"/>
<text x="388.4" y="14.0" font-size="10.2" font-weight="bold" textLength="116.10000000000002" lengthAdjust="spacingAndGlyphs">Unprovoked VTE OR: 1.39</text>
<text x="0" y="0" font-size="5.6" text-anchor="middle" style="fill:#444" transform="translate(398.9,22.9) scale(0.86,1)">10</text>
<text x="0" y="0" font-size="5.6" text-anchor="middle" style="fill:#444" transform="translate(412.8,22.9) scale(0.86,1)">27</text>
<text x="0" y="0" font-size="5.6" text-anchor="middle" style="fill:#444" transform="translate(425.5,22.9) scale(0.86,1)">43</text>
<text x="0" y="0" font-size="5.6" text-anchor="middle" style="fill:#444" transform="translate(434.7,22.9) scale(0.86,1)">60</text>
<text x="0" y="0" font-size="5.6" text-anchor="middle" style="fill:#444" transform="translate(443.7,22.9) scale(0.86,1)">76</text>
<text x="0" y="0" font-size="5.6" text-anchor="middle" style="fill:#444" transform="translate(451.8,22.9) scale(0.86,1)">93</text>
<text x="0" y="0" font-size="5.6" text-anchor="middle" style="fill:#444" transform="translate(463.6,22.9) scale(0.86,1)">110</text>
<text x="0" y="0" font-size="5.6" text-anchor="middle" style="fill:#444" transform="translate(474.3,22.9) scale(0.86,1)">126</text>
<text x="0" y="0" font-size="5.6" text-anchor="middle" style="fill:#444" transform="translate(485.1,22.9) scale(0.86,1)">143</text>
<text x="0" y="0" font-size="5.6" text-anchor="middle" style="fill:#444" transform="translate(494.2,22.9) scale(0.86,1)">159</text>
<text x="0" y="0" font-size="5.6" text-anchor="middle" style="fill:#444" transform="translate(502.9,22.9) scale(0.86,1)">175</text>
<rect x="398.2" y="25.7" width="104.60000000000002" height="3.6" fill="#000"/>
<rect x="400.5" y="25.7" width="1.7" height="3.0" fill="#fff" opacity="1"/>
<rect x="405.4" y="25.7" width="1.1" height="3.0" fill="#fff" opacity="1"/>
<rect x="409.4" y="25.7" width="1.2" height="3.0" fill="#fff" opacity="1"/>
<rect x="416.9" y="25.7" width="1.2" height="3.0" fill="#fff" opacity="1"/>
<rect x="420.2" y="25.7" width="0.6" height="3.0" fill="#fff" opacity="0.35"/>
<rect x="421" y="25.7" width="0.6" height="3.0" fill="#fff" opacity="0.35"/>
<rect x="424.4" y="25.7" width="0.6" height="3.0" fill="#fff" opacity="0.35"/>
<rect x="428.5" y="25.7" width="0.6" height="3.0" fill="#fff" opacity="0.35"/>
<rect x="432" y="25.7" width="0.6" height="3.0" fill="#fff" opacity="0.35"/>
<rect x="434.2" y="25.7" width="0.6" height="3.0" fill="#fff" opacity="0.35"/>
<rect x="436.2" y="25.7" width="1.1" height="3.0" fill="#fff" opacity="1"/>
<rect x="440" y="25.7" width="0.6" height="3.0" fill="#fff" opacity="0.35"/>
<rect x="442.8" y="25.7" width="0.6" height="3.0" fill="#fff" opacity="0.35"/>
<rect x="445" y="25.7" width="0.6" height="3.0" fill="#fff" opacity="0.35"/>
<rect x="447" y="25.7" width="1.2" height="3.0" fill="#fff" opacity="1"/>
<rect x="452" y="25.7" width="0.6" height="3.0" fill="#fff" opacity="0.35"/>
<rect x="456.3" y="25.7" width="1.1" height="3.0" fill="#fff" opacity="1"/>
<rect x="459.1" y="25.7" width="0.7" height="3.0" fill="#fff" opacity="0.9"/>
<rect x="463.3" y="25.7" width="0.6" height="3.0" fill="#fff" opacity="0.35"/>
<rect x="466.6" y="25.7" width="1.2" height="3.0" fill="#fff" opacity="1"/>
<rect x="472.7" y="25.7" width="1.2" height="3.0" fill="#fff" opacity="1"/>
<rect x="475.4" y="25.7" width="0.7" height="3.0" fill="#fff" opacity="1"/>
<rect x="477" y="25.7" width="0.5" height="3.0" fill="#fff" opacity="0.7"/>
<rect x="479.7" y="25.7" width="0.6" height="3.0" fill="#fff" opacity="0.35"/>
<rect x="485" y="25.7" width="0.6" height="3.0" fill="#fff" opacity="0.35"/>
<rect x="489.7" y="25.7" width="0.6" height="3.0" fill="#fff" opacity="0.35"/>
<rect x="493.8" y="25.7" width="0.6" height="3.0" fill="#fff" opacity="0.35"/>
<rect x="500.6" y="25.7" width="0.5" height="3.0" fill="#fff" opacity="0.6"/>
<rect x="501.4" y="25.7" width="0.6" height="3.0" fill="#fff" opacity="0.9"/>
<path d="M381.1,29.5 H509.35 V226.2 H381.1 Z" fill="none" stroke="#000" stroke-width="1.5"/>
<line x1="378.1" y1="218.80" x2="381.1" y2="218.80" stroke="#000" stroke-width="1"/>
<text x="375.3" y="221.60" font-size="7.8" text-anchor="end">0</text>
<line x1="378.1" y1="188.42" x2="381.1" y2="188.42" stroke="#000" stroke-width="1"/>
<text x="375.3" y="191.22" font-size="7.8" text-anchor="end">1</text>
<line x1="378.1" y1="158.04" x2="381.1" y2="158.04" stroke="#000" stroke-width="1"/>
<text x="375.3" y="160.84" font-size="7.8" text-anchor="end">2</text>
<line x1="378.1" y1="127.66" x2="381.1" y2="127.66" stroke="#000" stroke-width="1"/>
<text x="375.3" y="130.46" font-size="7.8" text-anchor="end">3</text>
<line x1="378.1" y1="97.28" x2="381.1" y2="97.28" stroke="#000" stroke-width="1"/>
<text x="375.3" y="100.08" font-size="7.8" text-anchor="end">4</text>
<line x1="378.1" y1="66.90" x2="381.1" y2="66.90" stroke="#000" stroke-width="1"/>
<text x="375.3" y="69.70" font-size="7.8" text-anchor="end">5</text>
<line x1="378.1" y1="36.52" x2="381.1" y2="36.52" stroke="#000" stroke-width="1"/>
<text x="375.3" y="39.32" font-size="7.8" text-anchor="end">6</text>
<line x1="385.60" y1="226.2" x2="385.60" y2="229.7" stroke="#000" stroke-width="1"/>
<text x="385.60" y="238.9" font-size="8.4" text-anchor="middle">0</text>
<line x1="403.91" y1="226.2" x2="403.91" y2="229.7" stroke="#000" stroke-width="1"/>
<text x="403.91" y="238.9" font-size="8.4" text-anchor="middle">2</text>
<line x1="422.22" y1="226.2" x2="422.22" y2="229.7" stroke="#000" stroke-width="1"/>
<text x="422.22" y="238.9" font-size="8.4" text-anchor="middle">4</text>
<line x1="440.53" y1="226.2" x2="440.53" y2="229.7" stroke="#000" stroke-width="1"/>
<text x="440.53" y="238.9" font-size="8.4" text-anchor="middle">6</text>
<line x1="458.84" y1="226.2" x2="458.84" y2="229.7" stroke="#000" stroke-width="1"/>
<text x="458.84" y="238.9" font-size="8.4" text-anchor="middle">8</text>
<line x1="477.15" y1="226.2" x2="477.15" y2="229.7" stroke="#000" stroke-width="1"/>
<text x="477.15" y="238.9" font-size="8.4" text-anchor="middle">10</text>
<line x1="495.46" y1="226.2" x2="495.46" y2="229.7" stroke="#000" stroke-width="1"/>
<text x="495.46" y="238.9" font-size="8.4" text-anchor="middle">12</text>
<line x1="385.1" y1="188.42" x2="509.35" y2="188.42" stroke="#222" stroke-width="0.95" stroke-dasharray="3.2 2.2"/>
<text x="-30.3" y="0" font-size="8.2" textLength="60.6" lengthAdjust="spacingAndGlyphs" transform="translate(364.4,127.15) rotate(-90)">OR (T1 (ref) vs. T3)</text>
<text x="379.0" y="250.6" font-size="9.6" textLength="132.9" lengthAdjust="spacingAndGlyphs" style="stroke:#111;stroke-width:0.25">Max years from Tromsø 4 to unprovoked VTE</text>
<circle cx="405.2" cy="51.9" r="1.65" fill="#fff" stroke="#000" stroke-width="0.85"/>
<circle cx="403.5" cy="67.5" r="1.65" fill="#fff" stroke="#000" stroke-width="0.85"/>
<circle cx="400" cy="71.8" r="1.65" fill="#fff" stroke="#000" stroke-width="0.85"/>
<circle cx="404.7" cy="75.8" r="1.65" fill="#fff" stroke="#000" stroke-width="0.85"/>
<circle cx="403.8" cy="84.4" r="1.65" fill="#fff" stroke="#000" stroke-width="0.85"/>
<circle cx="398.75" cy="98" r="1.65" fill="#fff" stroke="#000" stroke-width="0.85"/>
<circle cx="407.5" cy="125.4" r="1.65" fill="#fff" stroke="#000" stroke-width="0.85"/>
<circle cx="411.5" cy="135.5" r="1.65" fill="#fff" stroke="#000" stroke-width="0.85"/>
<circle cx="405.6" cy="138.8" r="1.65" fill="#fff" stroke="#000" stroke-width="0.85"/>
<circle cx="409.4" cy="144.2" r="1.65" fill="#fff" stroke="#000" stroke-width="0.85"/>
<circle cx="408.3" cy="151" r="1.65" fill="#fff" stroke="#000" stroke-width="0.85"/>
<circle cx="411.5" cy="153.6" r="1.65" fill="#fff" stroke="#000" stroke-width="0.85"/>
<circle cx="407.5" cy="155.5" r="1.65" fill="#fff" stroke="#000" stroke-width="0.85"/>
<circle cx="412" cy="155.5" r="1.65" fill="#fff" stroke="#000" stroke-width="0.85"/>
<circle cx="416" cy="160.3" r="1.65" fill="#fff" stroke="#000" stroke-width="0.85"/>
<circle cx="418.2" cy="159" r="1.65" fill="#fff" stroke="#000" stroke-width="0.85"/>
<circle cx="412.4" cy="164.2" r="1.65" fill="#fff" stroke="#000" stroke-width="0.85"/>
<circle cx="414.2" cy="166" r="1.65" fill="#fff" stroke="#000" stroke-width="0.85"/>
<circle cx="411.8" cy="168.5" r="1.65" fill="#fff" stroke="#000" stroke-width="0.85"/>
<circle cx="413.9" cy="169.7" r="1.65" fill="#fff" stroke="#000" stroke-width="0.85"/>
<circle cx="412.6" cy="172.1" r="1.65" fill="#fff" stroke="#000" stroke-width="0.85"/>
<circle cx="418.3" cy="172.2" r="1.65" fill="#fff" stroke="#000" stroke-width="0.85"/>
<circle cx="421.2" cy="171.7" r="1.65" fill="#fff" stroke="#000" stroke-width="0.85"/>
<circle cx="420.7" cy="174.6" r="1.65" fill="#fff" stroke="#000" stroke-width="0.85"/>
<circle cx="418.8" cy="177.5" r="1.65" fill="#fff" stroke="#000" stroke-width="0.85"/>
<circle cx="421.2" cy="178" r="1.65" fill="#fff" stroke="#000" stroke-width="0.85"/>
<circle cx="422.2" cy="179.9" r="1.65" fill="#fff" stroke="#000" stroke-width="0.85"/>
<circle cx="411.5" cy="135.5" r="1.65" fill="#fff" stroke="#000" stroke-width="0.85"/>
<path d="M423,181.5 L424,183.5 L425,185" fill="none" stroke="#111" stroke-width="4.2" stroke-linecap="round" stroke-linejoin="round"/>
<circle cx="425.5" cy="186.9" r="1.65" fill="#fff" stroke="#000" stroke-width="0.85"/>
<circle cx="425.8" cy="183.5" r="1.65" fill="#fff" stroke="#000" stroke-width="0.85"/>
<circle cx="426.5" cy="180.1" r="1.65" fill="#fff" stroke="#000" stroke-width="0.85"/>
<circle cx="427.8" cy="177.7" r="1.65" fill="#fff" stroke="#000" stroke-width="0.85"/>
<circle cx="428.4" cy="175.2" r="1.65" fill="#fff" stroke="#000" stroke-width="0.85"/>
<circle cx="429.6" cy="172.8" r="1.65" fill="#fff" stroke="#000" stroke-width="0.85"/>
<circle cx="430.8" cy="170.3" r="1.65" fill="#fff" stroke="#000" stroke-width="0.85"/>
<circle cx="431.60" cy="169.20" r="1.65" fill="#fff" stroke="#000" stroke-width="1.0"/>
<circle cx="431.99" cy="170.28" r="1.65" fill="#fff" stroke="#000" stroke-width="1.0"/>
<circle cx="432.39" cy="171.36" r="1.65" fill="#fff" stroke="#000" stroke-width="1.0"/>
<circle cx="432.78" cy="172.44" r="1.65" fill="#fff" stroke="#000" stroke-width="1.0"/>
<circle cx="432.95" cy="173.58" r="1.65" fill="#fff" stroke="#000" stroke-width="1.0"/>
<circle cx="433.10" cy="174.72" r="1.65" fill="#fff" stroke="#000" stroke-width="1.0"/>
<circle cx="433.25" cy="175.86" r="1.65" fill="#fff" stroke="#000" stroke-width="1.0"/>
<circle cx="433.94" cy="175.71" r="1.65" fill="#fff" stroke="#000" stroke-width="1.0"/>
<circle cx="434.86" cy="175.02" r="1.65" fill="#fff" stroke="#000" stroke-width="1.0"/>
<circle cx="435.58" cy="175.03" r="1.65" fill="#fff" stroke="#000" stroke-width="1.0"/>
<circle cx="436.02" cy="176.09" r="1.65" fill="#fff" stroke="#000" stroke-width="1.0"/>
<circle cx="436.46" cy="177.15" r="1.65" fill="#fff" stroke="#000" stroke-width="1.0"/>
<circle cx="436.90" cy="178.21" r="1.65" fill="#fff" stroke="#000" stroke-width="1.0"/>
<circle cx="437.09" cy="179.35" r="1.65" fill="#fff" stroke="#000" stroke-width="1.0"/>
<circle cx="437.27" cy="180.49" r="1.65" fill="#fff" stroke="#000" stroke-width="1.0"/>
<circle cx="437.45" cy="181.62" r="1.65" fill="#fff" stroke="#000" stroke-width="1.0"/>
<circle cx="437.79" cy="181.08" r="1.65" fill="#fff" stroke="#000" stroke-width="1.0"/>
<circle cx="438.18" cy="180.00" r="1.65" fill="#fff" stroke="#000" stroke-width="1.0"/>
<circle cx="438.57" cy="178.92" r="1.65" fill="#fff" stroke="#000" stroke-width="1.0"/>
<circle cx="438.95" cy="177.83" r="1.65" fill="#fff" stroke="#000" stroke-width="1.0"/>
<circle cx="439.46" cy="176.81" r="1.65" fill="#fff" stroke="#000" stroke-width="1.0"/>
<circle cx="439.99" cy="175.78" r="1.65" fill="#fff" stroke="#000" stroke-width="1.0"/>
<circle cx="440.52" cy="174.76" r="1.65" fill="#fff" stroke="#000" stroke-width="1.0"/>
<circle cx="441.38" cy="175.17" r="1.65" fill="#fff" stroke="#000" stroke-width="1.0"/>
<circle cx="442.16" cy="175.95" r="1.65" fill="#fff" stroke="#000" stroke-width="1.0"/>
<circle cx="442.43" cy="177.07" r="1.65" fill="#fff" stroke="#000" stroke-width="1.0"/>
<circle cx="442.69" cy="178.19" r="1.65" fill="#fff" stroke="#000" stroke-width="1.0"/>
<circle cx="442.96" cy="179.31" r="1.65" fill="#fff" stroke="#000" stroke-width="1.0"/>
<circle cx="443.30" cy="180.38" r="1.65" fill="#fff" stroke="#000" stroke-width="1.0"/>
<circle cx="444.23" cy="181.06" r="1.65" fill="#fff" stroke="#000" stroke-width="1.0"/>
<circle cx="444.95" cy="180.89" r="1.65" fill="#fff" stroke="#000" stroke-width="1.0"/>
<circle cx="445.47" cy="179.86" r="1.65" fill="#fff" stroke="#000" stroke-width="1.0"/>
<circle cx="445.98" cy="178.83" r="1.65" fill="#fff" stroke="#000" stroke-width="1.0"/>
<circle cx="446.71" cy="178.36" r="1.65" fill="#fff" stroke="#000" stroke-width="1.0"/>
<circle cx="447.78" cy="178.79" r="1.65" fill="#fff" stroke="#000" stroke-width="1.0"/>
<circle cx="448.60" cy="178.00" r="1.65" fill="#fff" stroke="#000" stroke-width="1.0"/>
<circle cx="449.40" cy="177.19" r="1.65" fill="#fff" stroke="#000" stroke-width="1.0"/>
<circle cx="449.71" cy="176.08" r="1.65" fill="#fff" stroke="#000" stroke-width="1.0"/>
<circle cx="450.02" cy="174.97" r="1.65" fill="#fff" stroke="#000" stroke-width="1.0"/>
<circle cx="450.33" cy="173.86" r="1.65" fill="#fff" stroke="#000" stroke-width="1.0"/>
<circle cx="450.75" cy="172.80" r="1.65" fill="#fff" stroke="#000" stroke-width="1.0"/>
<circle cx="451.20" cy="171.74" r="1.65" fill="#fff" stroke="#000" stroke-width="1.0"/>
<circle cx="451.66" cy="170.68" r="1.65" fill="#fff" stroke="#000" stroke-width="1.0"/>
<circle cx="452.21" cy="169.70" r="1.65" fill="#fff" stroke="#000" stroke-width="1.0"/>
<circle cx="453.05" cy="168.90" r="1.65" fill="#fff" stroke="#000" stroke-width="1.0"/>
<circle cx="453.88" cy="168.11" r="1.65" fill="#fff" stroke="#000" stroke-width="1.0"/>
<circle cx="454.77" cy="167.39" r="1.65" fill="#fff" stroke="#000" stroke-width="1.0"/>
<circle cx="455.69" cy="166.69" r="1.65" fill="#fff" stroke="#000" stroke-width="1.0"/>
<circle cx="456.70" cy="166.30" r="1.65" fill="#fff" stroke="#000" stroke-width="1.0"/>
<circle cx="457.85" cy="166.30" r="1.65" fill="#fff" stroke="#000" stroke-width="1.0"/>
<circle cx="459.00" cy="166.26" r="1.65" fill="#fff" stroke="#000" stroke-width="1.0"/>
<circle cx="460.14" cy="166.11" r="1.65" fill="#fff" stroke="#000" stroke-width="1.0"/>
<circle cx="461.00" cy="166.00" r="1.65" fill="#fff" stroke="#000" stroke-width="1.0"/>
<circle cx="466.00" cy="166.50" r="1.65" fill="#fff" stroke="#000" stroke-width="1.0"/>
<circle cx="466.95" cy="167.15" r="1.65" fill="#fff" stroke="#000" stroke-width="1.0"/>
<circle cx="467.90" cy="167.79" r="1.65" fill="#fff" stroke="#000" stroke-width="1.0"/>
<circle cx="468.84" cy="168.46" r="1.65" fill="#fff" stroke="#000" stroke-width="1.0"/>
<circle cx="469.75" cy="169.16" r="1.65" fill="#fff" stroke="#000" stroke-width="1.0"/>
<circle cx="470.67" cy="169.86" r="1.65" fill="#fff" stroke="#000" stroke-width="1.0"/>
<circle cx="471.58" cy="170.55" r="1.65" fill="#fff" stroke="#000" stroke-width="1.0"/>
<circle cx="472.59" cy="171.07" r="1.65" fill="#fff" stroke="#000" stroke-width="1.0"/>
<circle cx="473.66" cy="171.50" r="1.65" fill="#fff" stroke="#000" stroke-width="1.0"/>
<circle cx="474.73" cy="171.92" r="1.65" fill="#fff" stroke="#000" stroke-width="1.0"/>
<circle cx="475.80" cy="172.34" r="1.65" fill="#fff" stroke="#000" stroke-width="1.0"/>
<circle cx="476.87" cy="172.76" r="1.65" fill="#fff" stroke="#000" stroke-width="1.0"/>
<circle cx="477.95" cy="173.17" r="1.65" fill="#fff" stroke="#000" stroke-width="1.0"/>
<circle cx="479.02" cy="173.59" r="1.65" fill="#fff" stroke="#000" stroke-width="1.0"/>
<circle cx="480.09" cy="174.00" r="1.65" fill="#fff" stroke="#000" stroke-width="1.0"/>
<circle cx="481.05" cy="174.61" r="1.65" fill="#fff" stroke="#000" stroke-width="1.0"/>
<circle cx="481.90" cy="175.38" r="1.65" fill="#fff" stroke="#000" stroke-width="1.0"/>
<circle cx="482.75" cy="176.16" r="1.65" fill="#fff" stroke="#000" stroke-width="1.0"/>
<circle cx="483.60" cy="176.93" r="1.65" fill="#fff" stroke="#000" stroke-width="1.0"/>
<circle cx="484.57" cy="177.50" r="1.65" fill="#fff" stroke="#000" stroke-width="1.0"/>
<circle cx="485.66" cy="177.87" r="1.65" fill="#fff" stroke="#000" stroke-width="1.0"/>
<circle cx="486.75" cy="178.24" r="1.65" fill="#fff" stroke="#000" stroke-width="1.0"/>
<circle cx="487.84" cy="178.38" r="1.65" fill="#fff" stroke="#000" stroke-width="1.0"/>
<circle cx="488.92" cy="178.01" r="1.65" fill="#fff" stroke="#000" stroke-width="1.0"/>
<circle cx="490.01" cy="177.64" r="1.65" fill="#fff" stroke="#000" stroke-width="1.0"/>
<circle cx="491.09" cy="177.25" r="1.65" fill="#fff" stroke="#000" stroke-width="1.0"/>
<circle cx="492.11" cy="176.72" r="1.65" fill="#fff" stroke="#000" stroke-width="1.0"/>
<circle cx="493.13" cy="176.19" r="1.65" fill="#fff" stroke="#000" stroke-width="1.0"/>
<circle cx="493.97" cy="176.56" r="1.65" fill="#fff" stroke="#000" stroke-width="1.0"/>
<circle cx="494.71" cy="177.45" r="1.65" fill="#fff" stroke="#000" stroke-width="1.0"/>
<circle cx="495.45" cy="178.33" r="1.65" fill="#fff" stroke="#000" stroke-width="1.0"/>
<circle cx="496.21" cy="179.01" r="1.65" fill="#fff" stroke="#000" stroke-width="1.0"/>
<circle cx="497.07" cy="178.24" r="1.65" fill="#fff" stroke="#000" stroke-width="1.0"/>
<circle cx="497.93" cy="177.48" r="1.65" fill="#fff" stroke="#000" stroke-width="1.0"/>
<circle cx="498.81" cy="176.76" r="1.65" fill="#fff" stroke="#000" stroke-width="1.0"/>
<circle cx="499.91" cy="176.43" r="1.65" fill="#fff" stroke="#000" stroke-width="1.0"/>
<circle cx="501.01" cy="176.09" r="1.65" fill="#fff" stroke="#000" stroke-width="1.0"/>
<circle cx="501.30" cy="176.00" r="1.65" fill="#fff" stroke="#000" stroke-width="1.0"/>
<circle cx="462.8" cy="165.4" r="2.5" fill="#12508a"/>
<circle cx="465.5" cy="165.2" r="2.5" fill="#12508a"/>
<circle cx="502.2" cy="176.5" r="1.65" fill="#fff" stroke="#000" stroke-width="0.85"/>
<text x="431.1" y="67" font-size="8.4">2-year OR = 4.96</text>
<line x1="468.5" y1="73" x2="411.38" y2="68.03" stroke="#000" stroke-width="1"/>
<path d="M406.4,67.6 L411.55,66.04 L411.21,70.03 Z" fill="#000"/>
<text x="431.1" y="112" font-size="8.4">3-year OR = 1.54</text>
<line x1="467.8" y1="114.3" x2="420.25" y2="164.18" stroke="#000" stroke-width="1"/>
<path d="M416.8,167.8 L418.80,162.80 L421.70,165.56 Z" fill="#000"/>
<text x="437.3" y="152.7" font-size="8.4">5-year OR = 1.55</text>
<line x1="467.4" y1="155.2" x2="438.79" y2="167.61" stroke="#000" stroke-width="1"/>
<path d="M434.2,169.6 L437.99,165.78 L439.58,169.45 Z" fill="#000"/>
</svg>
</body></html>
